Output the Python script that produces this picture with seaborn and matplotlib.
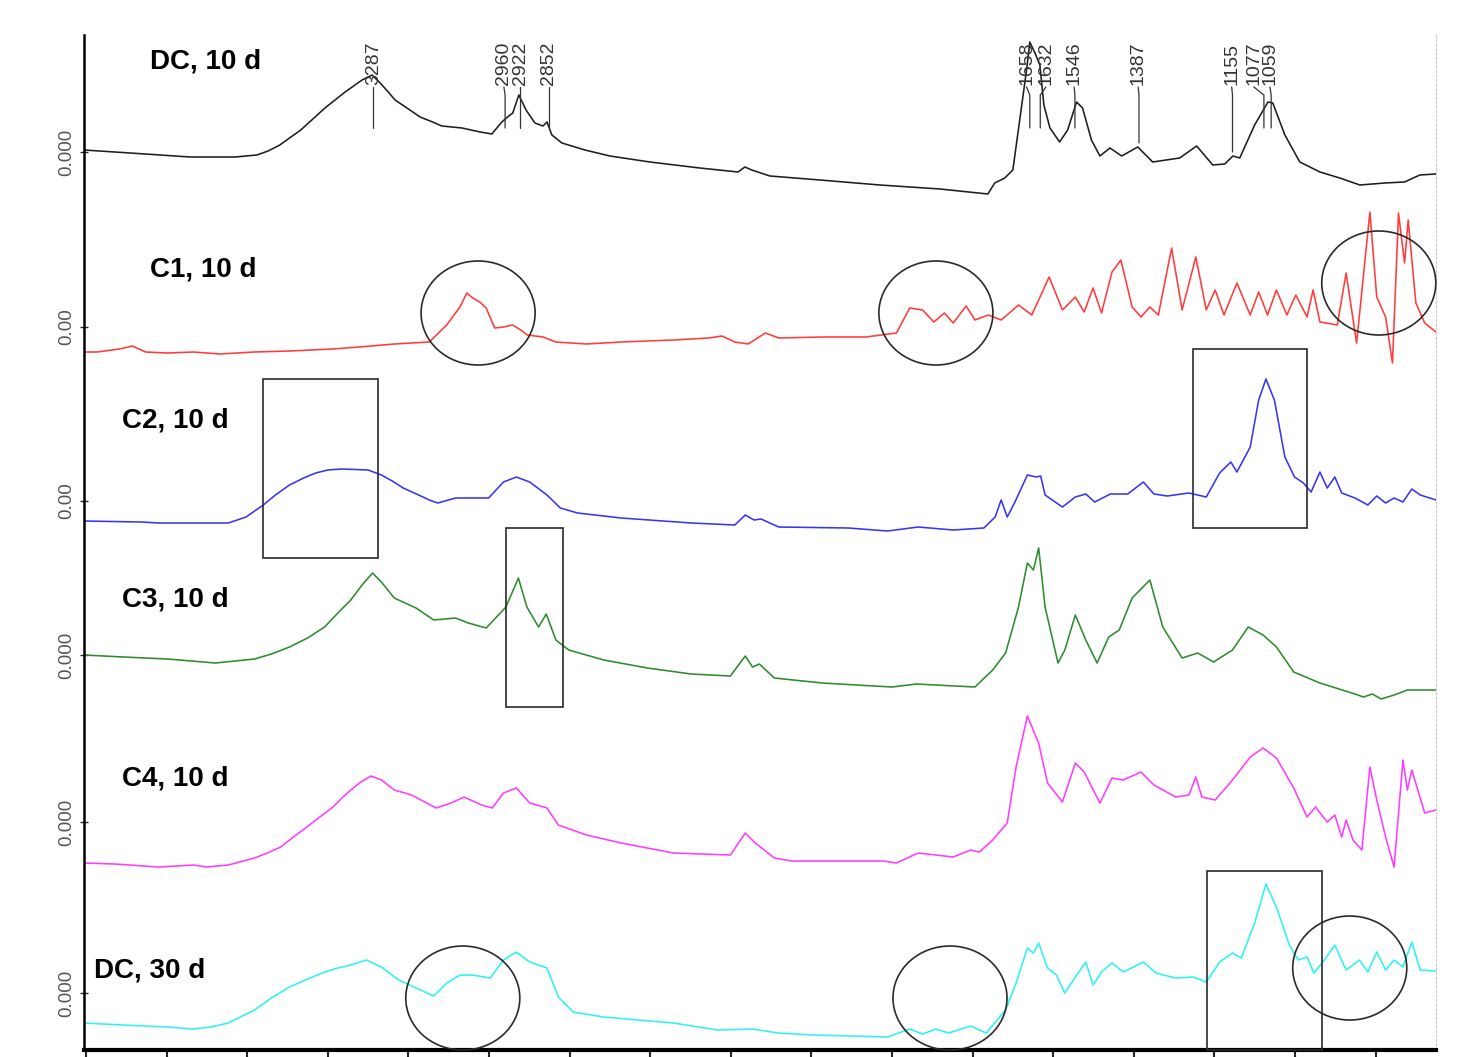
import pandas as pd
import seaborn as sns
import matplotlib.pyplot as plt
from matplotlib.patches import Ellipse, Rectangle

#==============================================================================
# FTIR spectra: wavenumber (cm-1) and signal above each
# trace's own zero line (arbitrary units)
dc10_wn = [4005, 3891, 3816, 3742, 3630, 3576, 3548, 3519, 3495, 3467,
           3437, 3407, 3382, 3357, 3336, 3315, 3300, 3290, 3270, 3250,
           3233, 3200, 3171, 3140, 3117, 3067, 3022, 2993, 2968,
           2951, 2941, 2926, 2908, 2886, 2866, 2856, 2844, 2819, 2762,
           2700, 2601, 2477, 2382, 2365, 2348, 2303, 2179, 2030, 1881,
           1762, 1745, 1720, 1700, 1683, 1665, 1658, 1643, 1633, 1623,
           1608, 1584, 1564, 1542, 1527, 1505, 1484, 1459, 1430, 1390,
           1353, 1286, 1244, 1204, 1174, 1154, 1137, 1100, 1067, 1055,
           1025, 988, 938, 889, 839, 777, 728, 690, 650]
dc10_abs = [2, -1, -3, -5, -5, -3, 1, 7, 14, 22,
            33, 44, 52, 60, 66, 72, 75, 77, 69, 60,
            52, 43, 35, 30, 26, 24, 20, 18, 30,
            36, 39, 57, 42, 29, 26, 30, 17, 9, 2,
            -4, -10, -16, -20, -15, -18, -24, -28, -33, -37,
            -42, -31, -26, -18, 32, 85, 110, 97, 87, 47,
            24, 10, 22, 50, 44, 12, -4, 4, -4, 5,
            -10, -6, 6, -13, -12, -4, -6, 27, 50, 49,
            17, -10, -20, -26, -33, -31, -30, -23, -22]

c1_wn = [4005, 3972, 3917, 3885, 3852, 3798, 3733, 3668, 3582, 3495,
         3387, 3322, 3235, 3148, 3105, 3072, 3055, 3040, 3023, 3007,
         2986, 2964, 2942, 2921, 2905, 2866, 2834, 2758, 2672, 2542,
         2455, 2422, 2390, 2357, 2314, 2281, 2173, 2065, 1989, 1956,
         1924, 1896, 1870, 1848, 1816, 1794, 1761, 1729, 1686, 1653,
         1610, 1577, 1545, 1523, 1501, 1480, 1454, 1432, 1404, 1382,
         1360, 1339, 1306, 1280, 1246, 1220, 1198, 1176, 1144, 1111,
         1090, 1068, 1046, 1020, 998, 970, 955, 938, 895, 873,
         847, 814, 797, 775, 758, 743, 728, 719, 700, 678, 650]
c1_abs = [-25, -25, -22, -19, -25, -26, -25, -27, -25, -24,
          -22, -20, -17, -15, 2, 20, 34, 29, 25, 19,
          -1, 0, 2, -3, -8, -10, -15, -17, -15, -13,
          -11, -9, -15, -17, -6, -11, -10, -10, -6, 19,
          17, 5, 14, 4, 21, 7, 12, 7, 22, 12,
          50, 17, 30, 15, 39, 14, 55, 67, 20, 10,
          20, 12, 79, 17, 70, 17, 37, 12, 44, 12,
          35, 12, 37, 12, 32, 10, 37, 5, 2, 54,
          -16, 115, 30, 10, -36, 114, 64, 107, 24, 4, -5]

c2_wn = [4005, 3863, 3820, 3647, 3603, 3560, 3530, 3495, 3460, 3430,
         3400, 3365, 3300, 3267, 3240, 3213, 3180, 3148, 3127, 3083,
         3001, 2964, 2932, 2899, 2856,
         2823, 2780, 2672, 2498, 2390, 2364, 2342, 2325, 2281, 2108,
         2011, 1935, 1848, 1772, 1744, 1729, 1714, 1696, 1664, 1642,
         1631, 1620, 1577, 1545, 1519, 1497, 1458, 1415, 1376, 1350,
         1317, 1263, 1220, 1187, 1159, 1144, 1111, 1090, 1072, 1051,
         1025, 1001, 979, 960, 938, 920, 901, 884, 851, 819,
         797, 775, 754, 732, 710, 689, 650]
c2_abs = [-20, -21, -22, -22, -16, -4, 6, 16, 23, 28,
          31, 32, 31, 26, 20, 13, 7, 1, -2, 3,
          3, 19, 24, 19, 6,
          -7, -12, -17, -22, -24, -14, -19, -18, -26, -27,
          -30, -26, -29, -27, -16, 1, -16, -2, 26, 24,
          25, 6, -6, 4, 7, -1, 7, 7, 19, 7,
          5, 8, 4, 28, 39, 29, 54, 101, 122, 101,
          44, 24, 18, 9, 29, 13, 24, 8, 3, -4,
          5, -2, 3, -1, 12, 6, 1]

c3_wn = [4005, 3907, 3798, 3679, 3582, 3540, 3495, 3450, 3408, 3375,
         3343, 3315, 3289, 3267,
         3235, 3181, 3137, 3083, 3051, 3007, 2958, 2927, 2906, 2877,
         2858, 2834, 2802, 2715, 2607, 2498, 2401, 2364, 2346, 2329,
         2292, 2173, 2000, 1939, 1794, 1750, 1718, 1686, 1664, 1649,
         1636, 1620, 1588, 1571, 1545, 1519, 1491, 1462, 1436, 1404,
         1360, 1328, 1280, 1241, 1202, 1155, 1116, 1079, 1046, 1003,
         938, 851, 830, 808, 786, 754, 721, 650]
c3_abs = [0, -2, -4, -8, -4, 1, 8, 17, 28, 42,
          55, 70, 82, 73,
          57, 47, 35, 37, 32, 27, 48, 77, 48, 28,
          41, 15, 5, -5, -13, -19, -21, -1, -12, -9,
          -23, -28, -32, -29, -32, -15, 2, 48, 92, 85,
          107, 48, -8, 5, 40, 15, -8, 18, 25, 57,
          75, 28, -3, 2, -7, 5, 28, 20, 8, -17,
          -28, -39, -42, -39, -44, -40, -35, -35]

c4_wn = [4005, 3928, 3820, 3733, 3701, 3647, 3582, 3550, 3517, 3485,
         3452, 3420, 3387, 3365, 3343, 3318, 3293, 3267, 3235, 3192,
         3131, 3094, 3062, 3018, 2992,
         2964, 2932, 2899, 2856, 2828, 2758, 2672, 2542, 2401, 2364,
         2342, 2292, 2249, 2021, 1989, 1935, 1891, 1848, 1805, 1783,
         1750, 1714, 1692, 1664, 1636, 1614, 1577, 1545, 1523, 1484,
         1454, 1426, 1382, 1350, 1296, 1263, 1246, 1231, 1198, 1155,
         1111, 1079, 1046, 1003, 970, 949, 920, 901, 884, 873,
         856, 834, 814, 797, 775, 754, 732, 721, 710, 678, 650]
c4_abs = [-41, -42, -45, -43, -45, -43, -36, -31, -25, -15,
          -5, 5, 15, 24, 32, 40, 46, 42, 32, 27,
          14, 19, 25, 17, 14,
          29, 34, 19, 14, -3, -13, -21, -31, -33, -11,
          -20, -36, -39, -39, -41, -31, -33, -35, -28, -30,
          -18, -1, 55, 106, 79, 39, 20, 59, 50, 19,
          44, 42, 50, 37, 25, 27, 45, 25, 22, 42,
          65, 74, 64, 34, 5, 15, 0, 7, -15, 2,
          -18, -28, 55, 22, -15, -45, 62, 32, 52, 9, 12]

dc30_wn = [4005, 3907, 3798, 3733, 3690, 3647, 3582, 3540, 3495, 3450,
           3408, 3375, 3343,
           3304, 3267, 3224, 3181, 3137, 3105, 3072, 3040, 2997, 2964,
           2932, 2899, 2856, 2828, 2791, 2715, 2542, 2433, 2346, 2281,
           2195, 2011, 1956, 1924, 1891, 1859, 1805, 1766, 1718, 1692,
           1664, 1649, 1636, 1614, 1592, 1571, 1545, 1519, 1501, 1480,
           1454, 1426, 1376, 1345, 1296, 1252, 1220, 1187, 1155, 1133,
           1100, 1072, 1046, 1014, 992, 970, 953, 927, 901, 873,
           840, 819, 797, 775, 754, 732, 710, 689, 650]
dc30_abs = [-30, -32, -34, -36, -34, -30, -17, -5, 6, 14,
            21, 25, 28,
            33, 26, 13, 5, -3, 10, 18, 18, 15, 33,
            41, 31, 25, -4, -19, -24, -30, -37, -36, -40,
            -42, -44, -36, -41, -36, -40, -33, -40, -17, 10,
            45, 40, 50, 25, 18, 0, 16, 31, 8, 21,
            30, 21, 31, 20, 15, 16, 11, 31, 40, 35,
            70, 109, 86, 48, 33, 36, 20, 33, 48, 23,
            33, 21, 41, 23, 33, 26, 51, 23, 22]

samples = ["DC, 10 d", "C1, 10 d", "C2, 10 d", "C3, 10 d", "C4, 10 d", "DC, 30 d"]
offsets = [898, 723, 549, 395, 228, 57]          # stacking offset of each trace
zero_labels = ["0.000", "0.00", "0.00", "0.000", "0.000", "0.000"]
colors = ["#1e1e1e", "#ff3b3b", "#3636f2", "#2e8b2e", "#ff3cff", "#2ef2f2"]

# peak picks on the top spectrum
peak_wn = [3287, 2960, 2922, 2852, 1658, 1632, 1546, 1387, 1155, 1077, 1059]
peak_text_wn = [3287, 2963, 2922, 2852, 1666, 1618, 1548, 1389, 1157, 1102, 1062]
peak_line_end = [922, 922, 922, 922, 922, 922, 922, 907, 898, 922, 922]

#==============================================================================
sns.set_style("white")
plt.rcParams['font.family'] = ['Liberation Sans', 'DejaVu Sans']

traces = [(dc10_wn, dc10_abs), (c1_wn, c1_abs), (c2_wn, c2_abs),
          (c3_wn, c3_abs), (c4_wn, c4_abs), (dc30_wn, dc30_abs)]
frames = []
for name, off, (wn, ab) in zip(samples, offsets, traces):
    frames.append(pd.DataFrame({"wavenumber": wn,
                                "signal": [a + off for a in ab],
                                "sample": name}))
df = pd.concat(frames, ignore_index=True)

fig = plt.figure(figsize=(14.71, 10.57), dpi=100)
ax = fig.add_axes([0.0571, 0.0066, 0.9191, 0.9603])

sns.lineplot(data=df, x="wavenumber", y="signal", hue="sample",
             hue_order=samples, palette=colors, estimator=None,
             legend=False, linewidth=1.15, ax=ax)

ax.set_xlim(4005, 650)
ax.set_ylim(0, 1015)
ax.set_xlabel("")
ax.set_ylabel("")

# sample names
name_pos = [(3841, 988), (3841, 780), (3911, 630), (3911, 451), (3911, 272), (3980, 80)]
for name, (x, y) in zip(samples, name_pos):
    ax.text(x, y, name, fontsize=20, fontweight="bold", ha="left",
            va="center", color="black")

# peak labels with leader lines
for p, tx, yend in zip(peak_wn, peak_text_wn, peak_line_end):
    ax.text(tx, 965, str(p), rotation=90, ha="center", va="bottom",
            fontsize=14, color="#333333")
    ax.plot([tx, p, p], [963, 955, yend], color="#333333", lw=0.9)

# highlighted regions
ellipses = [(3027, 737), (1891, 737), (792, 767), (3065, 52), (1856, 52), (864, 82)]
for cx, cy in ellipses:
    ax.add_patch(Ellipse((cx, cy), 283, 104, fill=False, ec="#2a2a2a",
                         lw=1.2, clip_on=False, zorder=5))
rects = [(3276, 492, 285, 179), (971, 522, 283, 179),
         (2817, 343, 141, 179), (933, 0, 286, 179)]
for x0, y0, w, h in rects:
    ax.add_patch(Rectangle((x0, y0), w, h, fill=False, ec="#2a2a2a",
                           lw=1.2, clip_on=False, zorder=5))

# axes styling
ax.set_yticks(offsets)
ax.set_yticklabels(zero_labels, rotation=90, va="center", fontsize=13.5)
ax.tick_params(axis="y", direction="inout", length=6, width=1, pad=3,
               labelcolor="#555555", left=True)
ax.set_xticks(range(4000, 799, -200))
ax.tick_params(axis="x", direction="out", length=9, width=1.5,
               labelbottom=False, bottom=True)

ax.spines["top"].set_visible(False)
ax.spines["left"].set_linewidth(1.8)
ax.spines["left"].set_color("black")
ax.spines["bottom"].set_linewidth(3)
ax.spines["bottom"].set_color("black")
ax.spines["right"].set_color("#c8c8c8")
ax.spines["right"].set_linestyle((0, (2, 2)))
ax.spines["right"].set_linewidth(0.8)

fig.savefig("out.png", dpi=100)
